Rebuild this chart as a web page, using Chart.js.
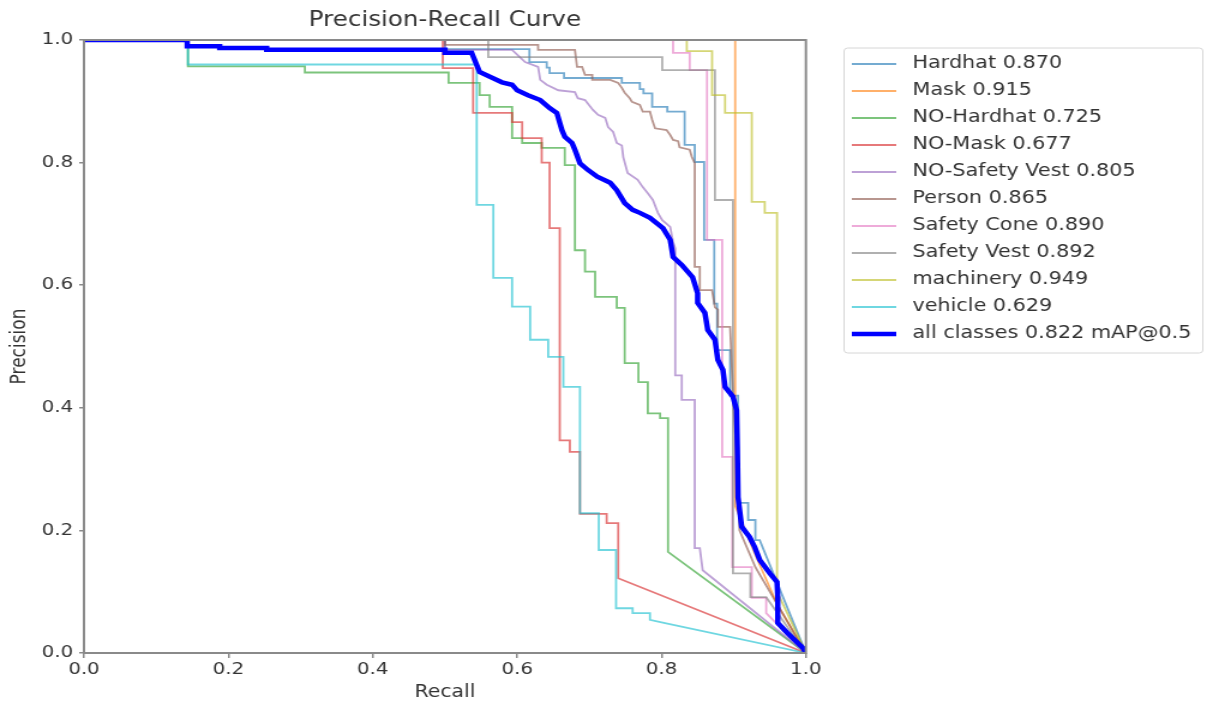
<!DOCTYPE html>
<html>
<head>
<meta charset="utf-8">
<title>Precision-Recall Curve</title>
<script src="https://cdn.jsdelivr.net/npm/chart.js@4"></script>
<style>
  html, body { margin: 0; padding: 0; background: #fff; }
  /* source image is stretched horizontally, so the canvas is too */
  #pr-chart { display: block; width: 1207px; height: 706px; }
</style>
</head>
<body>
<canvas id="pr-chart" width="1006" height="706" style="width:1207px;height:706px"></canvas>
<script>
const CLASS_NAMES = ['Hardhat', 'Mask', 'NO-Hardhat', 'NO-Mask', 'NO-Safety Vest',
  'Person', 'Safety Cone', 'Safety Vest', 'machinery', 'vehicle'];
const CLASS_AP = [0.870, 0.915, 0.725, 0.677, 0.805, 0.865, 0.890, 0.892, 0.949, 0.629];
const MEAN_AP = 0.822;

const X_TICKS = [0, 0.2, 0.4, 0.6, 0.8, 1.0];
const Y_TICKS = [0, 0.2, 0.4, 0.6, 0.8, 1.0];

// [recall, precision] pairs
const hardhatPR = [[0, 1], [0.5, 1], [0.5, 0.985], [0.617, 0.985], [0.617, 0.964], [0.641, 0.964],
  [0.641, 0.955], [0.645, 0.955], [0.645, 0.946], [0.665, 0.946], [0.665, 0.938], [0.745, 0.938],
  [0.745, 0.930], [0.770, 0.930], [0.770, 0.920], [0.775, 0.920], [0.775, 0.913], [0.787, 0.913],
  [0.787, 0.891], [0.808, 0.891], [0.808, 0.883], [0.832, 0.883], [0.832, 0.829], [0.846, 0.829],
  [0.846, 0.801], [0.859, 0.801], [0.859, 0.674], [0.873, 0.674], [0.873, 0.570], [0.877, 0.570],
  [0.877, 0.494], [0.895, 0.494], [0.895, 0.420], [0.906, 0.420], [0.906, 0.245], [0.920, 0.245],
  [0.920, 0.217], [0.930, 0.217], [0.930, 0.184], [0.936, 0.184], [1, 0]];
const maskPR = [[0, 1], [0.902, 1], [0.902, 0.24], [0.930, 0.16], [0.960, 0.08], [1, 0]];
const noHardhatPR = [[0, 1], [0.144, 1], [0.144, 0.957], [0.306, 0.957], [0.306, 0.947], [0.505, 0.947],
  [0.505, 0.930], [0.548, 0.930], [0.548, 0.910], [0.562, 0.910], [0.562, 0.891], [0.593, 0.891],
  [0.593, 0.840], [0.607, 0.840], [0.607, 0.832], [0.634, 0.832], [0.634, 0.824], [0.666, 0.824],
  [0.666, 0.796], [0.680, 0.796], [0.680, 0.657], [0.694, 0.657], [0.694, 0.622], [0.708, 0.622],
  [0.708, 0.581], [0.738, 0.581], [0.738, 0.563], [0.749, 0.563], [0.749, 0.473], [0.768, 0.473],
  [0.768, 0.442], [0.781, 0.442], [0.781, 0.391], [0.798, 0.391], [0.798, 0.383], [0.809, 0.383],
  [0.809, 0.165], [1, 0]];
const noMaskPR = [[0, 1], [0.497, 1], [0.497, 0.954], [0.539, 0.954], [0.539, 0.881], [0.593, 0.881],
  [0.593, 0.866], [0.607, 0.866], [0.607, 0.840], [0.634, 0.840], [0.634, 0.800], [0.645, 0.800],
  [0.645, 0.693], [0.659, 0.693], [0.659, 0.347], [0.673, 0.347], [0.673, 0.328], [0.687, 0.328],
  [0.687, 0.227], [0.724, 0.227], [0.724, 0.212], [0.740, 0.212], [0.740, 0.122], [1, 0]];
const noSafetyVestPR = [[0, 1], [0.5, 1], [0.5, 0.984], [0.593, 0.984], [0.611, 0.964], [0.629, 0.956],
  [0.632, 0.935], [0.641, 0.927], [0.657, 0.918], [0.680, 0.915], [0.684, 0.905], [0.694, 0.902],
  [0.705, 0.886], [0.712, 0.878], [0.722, 0.873], [0.726, 0.858], [0.733, 0.850], [0.738, 0.832],
  [0.745, 0.828], [0.747, 0.809], [0.753, 0.783], [0.767, 0.772], [0.774, 0.760], [0.781, 0.750],
  [0.788, 0.739], [0.795, 0.718], [0.801, 0.706], [0.812, 0.695], [0.816, 0.670], [0.819, 0.660],
  [0.819, 0.453], [0.828, 0.453], [0.828, 0.413], [0.846, 0.413], [0.846, 0.171], [0.853, 0.171],
  [0.857, 0.135], [1, 0]];
const personPR = [[0, 1], [0.5, 1], [0.5, 0.992], [0.629, 0.992], [0.629, 0.984], [0.680, 0.984],
  [0.683, 0.956], [0.690, 0.956], [0.694, 0.943], [0.704, 0.943], [0.704, 0.935], [0.729, 0.935],
  [0.740, 0.930], [0.745, 0.922], [0.749, 0.914], [0.756, 0.905], [0.759, 0.899], [0.770, 0.894],
  [0.774, 0.883], [0.784, 0.883], [0.787, 0.870], [0.791, 0.856], [0.807, 0.853], [0.812, 0.845],
  [0.816, 0.837], [0.823, 0.835], [0.825, 0.825], [0.839, 0.821], [0.842, 0.809], [0.846, 0.799],
  [0.846, 0.630], [0.853, 0.630], [0.853, 0.592], [0.870, 0.592], [0.874, 0.564], [0.878, 0.560],
  [0.878, 0.532], [0.895, 0.532], [0.899, 0.420], [0.905, 0.300], [0.908, 0.200], [0.930, 0.140],
  [1, 0]];
const safetyConePR = [[0, 1], [0.816, 1], [0.816, 0.979], [0.839, 0.979], [0.839, 0.951], [0.863, 0.951],
  [0.863, 0.674], [0.884, 0.674], [0.884, 0.320], [0.898, 0.320], [0.898, 0.140], [0.925, 0.140],
  [0.925, 0.090], [0.945, 0.090], [0.945, 0.065], [1, 0]];
const safetyVestPR = [[0, 1], [0.560, 1], [0.560, 0.972], [0.801, 0.972], [0.801, 0.951], [0.874, 0.951],
  [0.874, 0.739], [0.899, 0.739], [0.899, 0.130], [0.923, 0.130], [0.923, 0.091], [0.945, 0.091],
  [1, 0]];
const machineryPR = [[0, 1], [0.835, 1], [0.835, 0.982], [0.870, 0.982], [0.870, 0.910], [0.888, 0.910],
  [0.888, 0.881], [0.925, 0.881], [0.925, 0.736], [0.943, 0.736], [0.943, 0.718], [0.960, 0.718],
  [0.960, 0.100], [1, 0]];
const vehiclePR = [[0, 1], [0.144, 1], [0.144, 0.960], [0.544, 0.960], [0.544, 0.731], [0.567, 0.731],
  [0.567, 0.612], [0.593, 0.612], [0.593, 0.565], [0.618, 0.565], [0.618, 0.511], [0.643, 0.511],
  [0.643, 0.483], [0.664, 0.483], [0.664, 0.434], [0.687, 0.434], [0.687, 0.228], [0.713, 0.228],
  [0.713, 0.168], [0.737, 0.168], [0.737, 0.073], [0.760, 0.073], [0.760, 0.065], [0.784, 0.065],
  [0.784, 0.054], [0.800, 0.050], [1, 0]];
const allClassesPR = [[0, 1], [0.143, 1], [0.143, 0.990], [0.188, 0.990], [0.188, 0.987], [0.253, 0.987],
  [0.253, 0.984], [0.500, 0.984], [0.500, 0.979], [0.537, 0.979], [0.542, 0.965], [0.548, 0.948],
  [0.566, 0.938], [0.579, 0.931], [0.593, 0.927], [0.600, 0.918], [0.615, 0.910], [0.632, 0.902],
  [0.645, 0.889], [0.655, 0.881], [0.662, 0.853], [0.666, 0.842], [0.676, 0.832], [0.680, 0.821],
  [0.687, 0.799], [0.698, 0.788], [0.711, 0.777], [0.729, 0.767], [0.738, 0.755], [0.749, 0.734],
  [0.760, 0.723], [0.770, 0.718], [0.784, 0.710], [0.802, 0.693], [0.812, 0.674], [0.816, 0.646],
  [0.828, 0.633], [0.843, 0.613], [0.850, 0.587], [0.850, 0.571], [0.860, 0.555], [0.864, 0.527],
  [0.874, 0.511], [0.878, 0.478], [0.885, 0.462], [0.888, 0.434], [0.899, 0.418], [0.904, 0.396],
  [0.905, 0.336], [0.906, 0.254], [0.911, 0.206], [0.922, 0.189], [0.929, 0.173], [0.936, 0.152],
  [0.950, 0.130], [0.960, 0.116], [0.961, 0.091], [0.961, 0.049], [0.974, 0.033], [0.996, 0.008],
  [1, 0]];

const classCurves = [hardhatPR, maskPR, noHardhatPR, noMaskPR, noSafetyVestPR,
  personPR, safetyConePR, safetyVestPR, machineryPR, vehiclePR];

// matplotlib tab10, softened a bit like the source image
const classColors = ['rgba(31,119,180,0.62)', 'rgba(255,127,14,0.62)', 'rgba(44,160,44,0.62)',
  'rgba(214,39,40,0.62)', 'rgba(148,103,189,0.62)', 'rgba(140,86,75,0.62)', 'rgba(227,119,194,0.62)',
  'rgba(127,127,127,0.62)', 'rgba(188,189,34,0.62)', 'rgba(23,190,207,0.62)'];

const FONT = 'DejaVu Sans';
const TEXT_COLOR = '#333';
const AXIS_COLOR = '#8a8a8a';

function toPoints(pairs) {
  return pairs.map(([r, p]) => ({ x: r, y: p }));
}

const datasets = classCurves.map((curve, i) => ({
  label: `${CLASS_NAMES[i]} ${CLASS_AP[i].toFixed(3)}`,
  data: toPoints(curve),
  borderColor: classColors[i],
  borderWidth: 1.8,
  order: CLASS_NAMES.length - i + 1,
}));
datasets.push({
  label: `all classes ${MEAN_AP.toFixed(3)} mAP@0.5`,
  data: toPoints(allClassesPR),
  borderColor: '#0000ff',
  borderWidth: 4.5,
  order: 0,
});

// box around the plot, drawn over the lines like matplotlib spines
const framePlugin = {
  id: 'frame',
  afterDatasetsDraw(chart) {
    const { ctx, chartArea: a } = chart;
    ctx.save();
    ctx.strokeStyle = AXIS_COLOR;
    ctx.lineWidth = 2;
    ctx.strokeRect(a.left, a.top, a.right - a.left, a.bottom - a.top);
    ctx.restore();
  },
};

// legend to the right of the axes, framed
const sideLegendPlugin = {
  id: 'sideLegend',
  afterDraw(chart) {
    const ctx = chart.ctx;
    const boxX = 703.5, boxY = 48, boxW = 299, boxH = 305;
    ctx.save();
    ctx.strokeStyle = '#d6d6d6';
    ctx.lineWidth = 1;
    ctx.beginPath();
    ctx.roundRect(boxX, boxY, boxW, boxH, 3);
    ctx.stroke();
    ctx.font = `17.3px "${FONT}"`;
    ctx.textBaseline = 'middle';
    ctx.fillStyle = TEXT_COLOR;
    chart.data.datasets.forEach((ds, i) => {
      const y = 64 + i * 27;
      ctx.strokeStyle = ds.borderColor;
      ctx.lineWidth = ds.borderWidth;
      ctx.beginPath();
      ctx.moveTo(710, y);
      ctx.lineTo(747, y);
      ctx.stroke();
      ctx.fillText(ds.label, 760.5, y);
    });
    ctx.restore();
  },
};

const tickFont = { family: FONT, size: 16.5 };
const titleFont = { family: FONT, size: 17 };

new Chart(document.getElementById('pr-chart'), {
  type: 'line',
  data: { datasets },
  options: {
    responsive: false,
    animation: false,
    events: [],
    layout: { padding: { left: 0, right: 334.3, top: 0, bottom: 0 } },
    elements: {
      point: { radius: 0 },
      line: { tension: 0, fill: false },
    },
    plugins: {
      legend: { display: false },
      tooltip: { enabled: false },
      title: {
        display: true,
        text: 'Precision-Recall Curve',
        fullSize: false,
        color: TEXT_COLOR,
        font: { family: FONT, size: 20.5, weight: 'normal' },
        padding: { top: 8, bottom: 7.4 },
      },
    },
    scales: {
      x: {
        type: 'linear',
        min: 0,
        max: 1,
        afterBuildTicks: (axis) => { axis.ticks = X_TICKS.map((v) => ({ value: v })); },
        afterFit: (axis) => { axis.height = 53; },
        ticks: {
          color: TEXT_COLOR,
          font: tickFont,
          maxRotation: 0,
          padding: 2,
          callback: (v) => Number(v).toFixed(1),
        },
        grid: { drawOnChartArea: false, drawTicks: true, tickLength: 5, color: AXIS_COLOR, lineWidth: 1.5 },
        border: { display: false },
        title: { display: true, text: 'Recall', color: TEXT_COLOR, font: titleFont, padding: { top: 0, bottom: 3 } },
      },
      y: {
        type: 'linear',
        min: 0,
        max: 1,
        afterBuildTicks: (axis) => { axis.ticks = Y_TICKS.map((v) => ({ value: v })); },
        afterFit: (axis) => { axis.width = 70; },
        ticks: {
          color: TEXT_COLOR,
          font: tickFont,
          padding: 5,
          callback: (v) => Number(v).toFixed(1),
        },
        grid: { drawOnChartArea: false, drawTicks: true, tickLength: 4, color: AXIS_COLOR, lineWidth: 1.5 },
        border: { display: false },
        title: { display: true, text: 'Precision', color: TEXT_COLOR, font: titleFont, padding: { top: 6.5, bottom: 0 } },
      },
    },
  },
  plugins: [framePlugin, sideLegendPlugin],
});
</script>
</body>
</html>
